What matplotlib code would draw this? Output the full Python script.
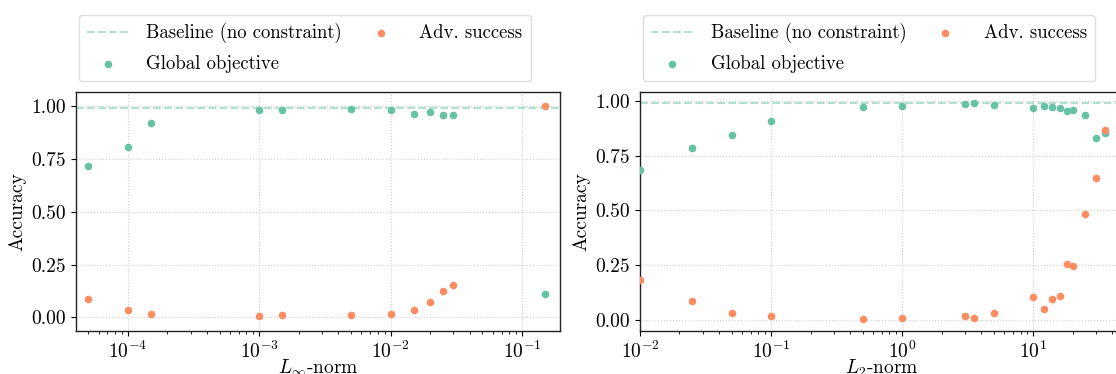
import matplotlib
matplotlib.use("Agg")
import matplotlib.pyplot as plt
from matplotlib.ticker import LogLocator, NullFormatter

plt.rcParams.update({
    "font.family": "serif",
    "font.serif": ["cmr10"],
    "mathtext.fontset": "cm",
    "axes.formatter.use_mathtext": True,
    "axes.unicode_minus": False,
    "font.size": 14,
})

GREEN = "#66c2a5"
ORANGE = "#fc8d62"
BASELINE = 0.99

# L-infinity constraint sweep
linf_norm = [5e-5, 1e-4, 1.5e-4, 1e-3, 1.5e-3, 5e-3, 1e-2, 1.5e-2, 2e-2, 2.5e-2, 3e-2, 0.15]
linf_global = [0.718, 0.807, 0.922, 0.981, 0.981, 0.986, 0.984, 0.962, 0.971, 0.959, 0.959, 0.112]
linf_adv = [0.088, 0.035, 0.016, 0.006, 0.009, 0.011, 0.017, 0.035, 0.071, 0.126, 0.152, 1.00]

# L2 constraint sweep
l2_norm = [0.01, 0.025, 0.05, 0.1, 0.5, 1.0, 3.0, 3.5, 5.0, 10, 12, 14, 16, 18, 20, 25, 30, 35]
l2_global = [0.686, 0.784, 0.845, 0.907, 0.973, 0.977, 0.985, 0.988, 0.980, 0.966,
             0.977, 0.971, 0.965, 0.954, 0.957, 0.933, 0.831, 0.854]
l2_adv = [0.181, 0.087, 0.032, 0.017, 0.006, 0.009, 0.020, 0.011, 0.032, 0.103,
          0.050, 0.097, 0.108, 0.257, 0.245, 0.484, 0.647, 0.865]

W, H = 1116, 374
fig = plt.figure(figsize=(W / 100, H / 100), dpi=100)

ax1 = fig.add_axes([76 / W, 1 - 331 / H, 484 / W, 239 / H])
ax2 = fig.add_axes([640 / W, 1 - 330.5 / H, 484 / W, 238.5 / H])


def draw(ax, x, g, a, xlabel, xlim, ylim, legend_x):
    ax.axhline(BASELINE, color=GREEN, alpha=0.5, ls="--", lw=1.5,
               label="Baseline (no constraint)", zorder=2)
    ax.scatter(x, g, s=30, color=GREEN, linewidth=0, label="Global objective", zorder=3)
    ax.scatter(x, a, s=30, color=ORANGE, linewidth=0, label="Adv. success", zorder=3)
    ax.set_xscale("log")
    ax.set_xlim(*xlim)
    ax.set_ylim(*ylim)
    ax.set_yticks([0, 0.25, 0.5, 0.75, 1.0])
    ax.set_yticklabels(["0.00", "0.25", "0.50", "0.75", "1.00"])
    ax.xaxis.set_major_locator(LogLocator(base=10, numticks=20))
    ax.xaxis.set_minor_locator(LogLocator(base=10, subs=range(2, 10), numticks=100))
    ax.xaxis.set_minor_formatter(NullFormatter())
    ax.grid(True, which="major", ls=":", color="#cfcfcf", lw=0.8)
    ax.set_axisbelow(True)
    ax.tick_params(which="major", length=3.5, width=0.8, labelsize=14)
    ax.tick_params(which="minor", length=2.2, width=0.6)
    for s in ax.spines.values():
        s.set_color("#222222")
        s.set_linewidth(1.0)
    ax.set_xlabel(xlabel, fontsize=14, labelpad=-3)
    ax.set_ylabel("Accuracy", fontsize=14)
    fig.legend(handles=ax.get_legend_handles_labels()[0], ncol=2,
               loc="upper left", bbox_to_anchor=(legend_x / W, 1 - 15 / H),
               borderaxespad=0, fontsize=13.5, handlelength=2.24, handletextpad=0.94,
               columnspacing=0.93, frameon=True, edgecolor="#dddddd",
               framealpha=1.0, fancybox=True, borderpad=0.44, labelspacing=0.62)


draw(ax1, linf_norm, linf_global, linf_adv, r"$L_\infty$-norm",
     (4.03e-5, 0.195), (-0.065, 1.068), 78.5)
draw(ax2, l2_norm, l2_global, l2_adv, r"$L_2$-norm",
     (0.01, 49.2), (-0.048, 1.04), 643)

fig.savefig("out.png", dpi=100)
